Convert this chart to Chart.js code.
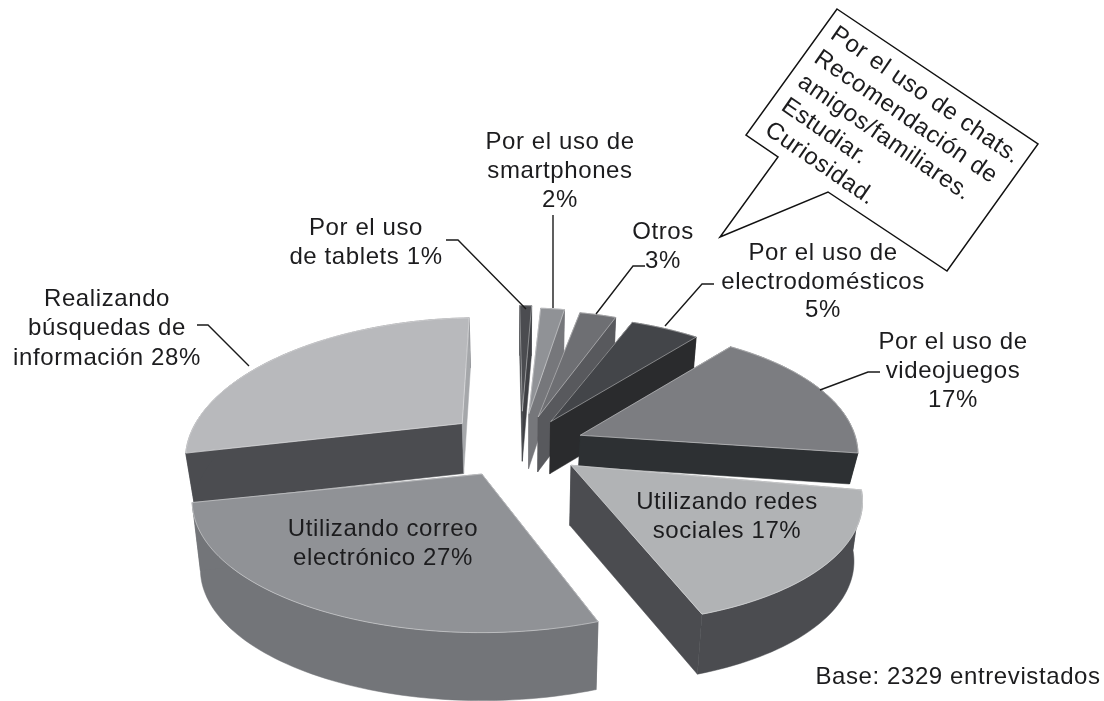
<!DOCTYPE html>
<html>
<head>
<meta charset="utf-8">
<style>
    html, body { margin: 0; padding: 0; background: #ffffff; }
    #wrap { width: 1104px; height: 701px; }
</style>
<script src="https://cdn.jsdelivr.net/npm/chart.js@4/dist/chart.umd.min.js"></script>
</head>
<body>
<div id="wrap"><canvas id="pieChart" width="1104" height="701"></canvas></div>
<script>
// clockwise from the top
const categories = [
    "Por el uso de tablets",
    "Por el uso de smartphones",
    "Otros",
    "Por el uso de electrodomésticos",
    "Por el uso de videojuegos",
    "Utilizando redes sociales",
    "Utilizando correo electrónico",
    "Realizando búsquedas de información"
];
const percentages = [1, 2, 3, 5, 17, 17, 27, 28];

const topColours = ["#4b4c50", "#909296", "#6e6f73", "#434549", "#7c7d81", "#b1b3b5", "#909296", "#b8b9bc"];
const sideColours = ["#3f4044", "#76777b", "#58595d", "#2a2b2d", "#2d3033", "#4b4c50", "#737579", "#4b4c50"];
const endFaceColours = ["#3f4044", "#76777b", "#58595d", "#2a2b2d", "#2d3033", "#4b4c50", "#737579", "#a5a7aa"];
const explode = [75, 70, 65, 60, 64, 68, 75, 75];
const depths = [50, 55, 55, 52, 31, 60, 68, 50];
// the drawing is not a true 3D projection, each slice is a little off
const widthScale = [0.8, 0.8, 0.82, 0.925, 0.955, 0.985, 1, 0.945];
const shearX = [0.025, 0, -0.05, 0, 0, 0.16, 0.05, -0.066];
const shearY = [0, 0, 0, 0, -0.025, 0, -0.013, -0.018];
// painted back to front
const drawOrder = [0, 1, 2, 3, 4, 7, 5, 6];

// text, centre x, middle y
const labels = [
    ["Por el uso de", 560, 142], ["smartphones", 560, 171], ["2%", 560, 200],
    ["Por el uso", 366, 228], ["de tablets 1%", 366, 257],
    ["Otros", 663, 232], ["3%", 663, 261],
    ["Por el uso de", 823, 253], ["electrodomésticos", 823, 282], ["5%", 823, 310],
    ["Por el uso de", 953, 342], ["videojuegos", 953, 371], ["17%", 953, 400],
    ["Realizando", 107, 299], ["búsquedas de", 107, 328], ["información 28%", 107, 358],
    ["Utilizando correo", 383, 529], ["electrónico 27%", 383, 558],
    ["Utilizando redes", 727, 502], ["sociales 17%", 727, 531],
    ["Base: 2329 entrevistados", 958, 677]
];
const calloutLines = ["Por el uso de chats.", "Recomendación de", "amigos/familiares.", "Estudiar.", "Curiosidad."];
const calloutShape = [[837, 9], [1038, 144], [947, 271], [828, 192], [720, 237], [778, 157], [746, 135]];
const leaders = [
    [[446, 240], [458, 240], [526, 309]],
    [[553, 215], [553, 308]],
    [[645, 266], [633, 266], [596, 314]],
    [[714, 284], [702, 284], [665, 326]],
    [[880, 372], [868, 372], [820, 390]],
    [[197, 325], [208, 325], [249, 366]]
];

const FONT = '24px "Liberation Sans"';
const TILT = 0.445;       // squash of the disc
const OFFSET_TILT = 0.45; // squash of the explode direction
const PERSPECTIVE = 0.2;
const BOTTOM_SHRINK = 0.975;

// map a point of a slice to the page
function project(arc, i, angle, radius, lower) {
    const mid = (arc.startAngle + arc.endAngle) / 2;
    const off = arc.options.offset;
    const ax = arc.x + Math.cos(mid) * off;
    const ay = arc.y + Math.sin(mid) * off * OFFSET_TILT;
    const px = radius * Math.cos(angle) * widthScale[i];
    const py = radius * Math.sin(angle);
    const w = 1 - PERSPECTIVE * py / arc.outerRadius;
    const dx = px / w;
    const dy = TILT * py / w;
    let x = ax + dx + shearX[i] * dy;
    let y = ay + dy + shearY[i] * dx;
    if (lower) {
        x = arc.x + (x - arc.x) * BOTTOM_SHRINK;
        y += depths[i];
    }
    return [x, y];
}

function tracePoly(ctx, points) {
    ctx.beginPath();
    points.forEach((p, i) => i ? ctx.lineTo(p[0], p[1]) : ctx.moveTo(p[0], p[1]));
}

function fillPoly(ctx, points, colour) {
    tracePoly(ctx, points);
    ctx.closePath();
    ctx.fillStyle = colour;
    ctx.strokeStyle = colour;
    ctx.lineWidth = 0.5;
    ctx.fill();
    ctx.stroke();
}

function drawSlice(ctx, arc, i) {
    const R = arc.outerRadius;
    const steps = Math.max(4, Math.round((arc.endAngle - arc.startAngle) * 40));
    const upper = [], under = [];
    for (let s = 0; s <= steps; s++) {
        const a = arc.startAngle + (arc.endAngle - arc.startAngle) * s / steps;
        upper.push(project(arc, i, a, R, false));
        under.push(project(arc, i, a, R, true));
    }
    const apex = project(arc, i, arc.startAngle, 0, false);
    const apexLow = project(arc, i, arc.startAngle, 0, true);

    // sides first, the top covers whatever faces away
    fillPoly(ctx, [apex, upper[0], under[0], apexLow], sideColours[i]);
    fillPoly(ctx, upper.concat(under.slice().reverse()), sideColours[i]);
    fillPoly(ctx, [apex, upper[steps], under[steps], apexLow], endFaceColours[i]);

    const top = [apex].concat(upper);
    fillPoly(ctx, top, arc.options.backgroundColor);
    tracePoly(ctx, top);
    ctx.closePath();
    ctx.strokeStyle = "rgba(255,255,255,0.55)";
    ctx.lineWidth = 0.7;
    ctx.stroke();
}

const pie3d = {
    id: "pie3d",
    beforeDatasetsDraw(chart) {
        const arcs = chart.getDatasetMeta(0).data;
        drawOrder.forEach(i => drawSlice(chart.ctx, arcs[i], i));
        return false;
    },
    afterDraw(chart) {
        const ctx = chart.ctx;
        ctx.save();

        // leader lines
        ctx.strokeStyle = "#1a1a1a";
        ctx.lineWidth = 1.4;
        leaders.forEach(line => {
            tracePoly(ctx, line);
            ctx.stroke();
        });

        // callout
        tracePoly(ctx, calloutShape);
        ctx.closePath();
        ctx.fillStyle = "#ffffff";
        ctx.fill();
        ctx.strokeStyle = "#111111";
        ctx.lineWidth = 1.5;
        ctx.stroke();

        ctx.font = FONT;
        ctx.letterSpacing = "0.6px";
        ctx.fillStyle = "#1c1c1e";
        ctx.textBaseline = "middle";

        ctx.save();
        ctx.translate(833, 32);
        ctx.rotate(34.5 * Math.PI / 180);
        ctx.textAlign = "left";
        calloutLines.forEach((t, i) => ctx.fillText(t, 0, i * 29));
        ctx.restore();

        ctx.textAlign = "center";
        labels.forEach(l => ctx.fillText(l[0], l[1], l[2]));
        ctx.restore();
    }
};

const chart = new Chart(document.getElementById("pieChart").getContext("2d"), {
    type: "pie",
    data: {
        labels: categories,
        datasets: [{
            data: percentages,
            backgroundColor: topColours,
            offset: explode,
            borderWidth: 0,
            radius: 285
        }]
    },
    options: {
        responsive: false,
        animation: false,
        layout: { padding: { left: 0, right: 64, top: 189, bottom: 0 } },
        plugins: {
            legend: { display: false },
            tooltip: { enabled: false }
        }
    },
    plugins: [pie3d]
});
</script>
</body>
</html>
